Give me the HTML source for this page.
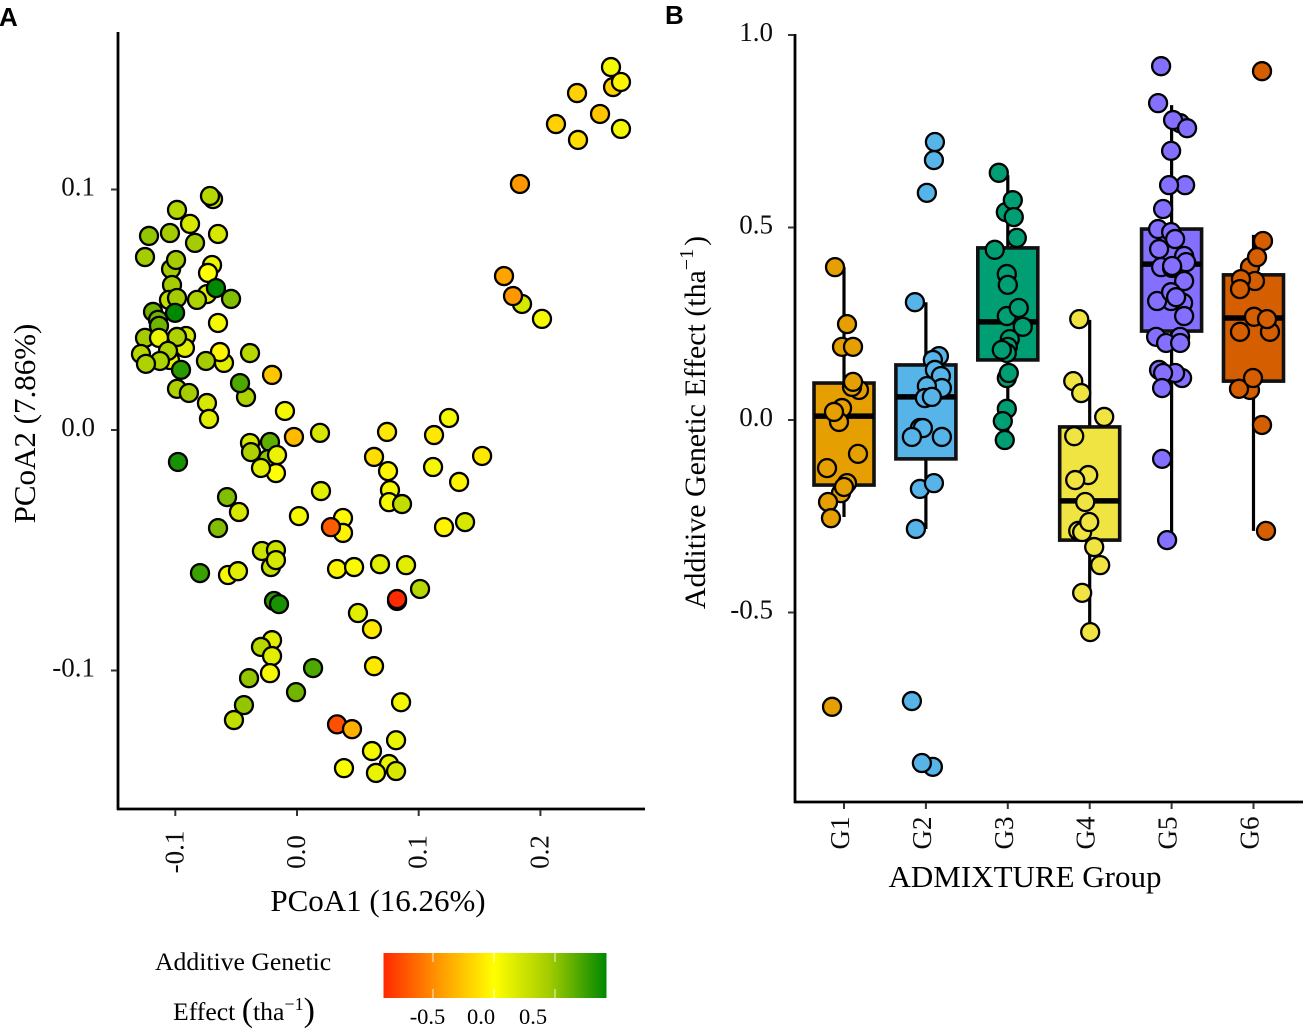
<!DOCTYPE html>
<html lang="en">
<head>
<meta charset="utf-8">
<title>PCoA and additive genetic effect by ADMIXTURE group</title>
<style>
html,body{margin:0;padding:0;background:#fff;}
svg{display:block;font-family:"Liberation Serif","DejaVu Serif",serif;}
.panel-tag{font-family:"Liberation Sans",Arial,sans-serif;font-weight:bold;font-size:26px;fill:#000;}
.tick-label{font-size:27px;fill:#0d0d0d;}
.axis-title{font-size:31px;fill:#000;}
.legend-text{font-size:25.7px;fill:#000;}
.legend-tick-text{font-size:22.5px;fill:#000;}
</style>
</head>
<body>
<svg id="figure" xmlns="http://www.w3.org/2000/svg" width="1308" height="1032" viewBox="0 0 1308 1032">
  <defs>
    <linearGradient id="effect-gradient" x1="0" x2="1" y1="0" y2="0"></linearGradient>
  </defs>
  <rect x="0" y="0" width="1308" height="1032" fill="#fff"/>
  <text class="panel-tag" x="-1" y="26">A</text>
  <text class="panel-tag" x="665" y="24">B</text>

  <g id="panel-a">
    <g id="a-points"></g>
    <line x1="118" y1="32" x2="118" y2="810" stroke="#000" stroke-width="2.8"/>
    <line x1="117" y1="809" x2="645" y2="809" stroke="#000" stroke-width="2.8"/>
    <g id="a-ticks"></g>
    <text class="axis-title" x="378" y="911" text-anchor="middle">PCoA1 (16.26%)</text>
    <text class="axis-title" transform="translate(35,423.5) rotate(-90)" text-anchor="middle">PCoA2 (7.86%)</text>
  </g>

  <g id="panel-b">
    <g id="b-marks"></g>
    <line x1="795" y1="34" x2="795" y2="803" stroke="#000" stroke-width="2.8"/>
    <line x1="794" y1="802" x2="1303" y2="802" stroke="#000" stroke-width="2.8"/>
    <g id="b-ticks"></g>
    <text class="axis-title" x="1025" y="887" text-anchor="middle">ADMIXTURE Group</text>
    <text class="axis-title" transform="translate(705,422.5) rotate(-90)" text-anchor="middle" style="font-size:29.9px">Additive Genetic Effect (tha<tspan font-size="20" dy="-12">−1</tspan><tspan dy="12" dx="3" font-size="30">)</tspan></text>
  </g>

  <g id="legend">
    <text class="legend-text" x="155" y="970">Additive Genetic</text>
    <text class="legend-text" x="173" y="1020">Effect <tspan font-size="34" dy="1">(</tspan><tspan dy="-1">tha</tspan><tspan font-size="18" dy="-10">−1</tspan><tspan font-size="34" dy="11">)</tspan></text>
    <rect x="383.5" y="953" width="223" height="45" fill="url(#effect-gradient)"/>
    <g id="legend-ticks"></g>
    <text class="legend-tick-text" x="427.5" y="1024" text-anchor="middle">-0.5</text>
    <text class="legend-tick-text" x="481" y="1024" text-anchor="middle">0.0</text>
    <text class="legend-tick-text" x="533" y="1024" text-anchor="middle">0.5</text>
  </g>
</svg>

<script>
/* Panel A data */
const pcoa1Values = [
  .2597,.2580,.2662,.2301,.2490,.2128,.2309,.2662,.1832,.1701,.1849,.1775,.2013,
  -.0690,-.0715,-.0986,-.0879,-.0838,-.1044,-.1216,-.0649,-.1249,-.0698,-.0731,
  -.1035,-.0994,-.1027,-.1052,-.0986,-.0740,-.0822,-.0666,-.0542,
  -.1183,-.1142,-.1134,-.1002,-.0912,-.0921,-.1249,-.1134,-.0986,-.0649,-.0600,-.0633,-.0748,-.0386,
  -.1282,-.1044,-.1060,-.0953,-.1126,-.1241,-.0419,-.0468,-.0986,-.0888,-.0740,-.0723,
  -.0205,-.0099,-.0025,.0189,-.0386,-.0378,-.0222,-.0238,-.0173,-.0164,-.0296,-.0978,
  -.0575,-.0477,-.0649,.0016,.0197,-.0797,-.0567,-.0485,-.0288,-.0173,-.0214,-.0173,-.0189,-.0148,
  -.0205,-.0296,-.0205,-.0394,-.0222,.0132,-.0008,-.0436,-.0518,
  .0740,.0633,.1126,.1249,.1521,.1118,.0748,.0764,.1332,.0756,.0863,.1208,.1381,
  .0378,.0378,.0279,.0329,.0469,.0682,.0896,.1011,.0822,.0822,.0501,.0616,.0633,.0855,
  .0329,.0452,.0616,.0814,.0386,.0756,.0814,.0649
];
const pcoa2Values = [
  .1426,.1509,.1447,.1401,.1314,.1272,.1206,.1252,.1023,.0640,.0524,.0557,.0462,
  .0960,.0973,.0915,.0857,.0778,.0819,.0807,.0815,.0719,.0686,.0653,
  .0669,.0707,.0603,.0541,.0549,.0565,.0541,.0590,.0545,
  .0491,.0458,.0433,.0487,.0391,.0341,.0383,.0383,.0387,.0445,.0279,.0324,.0287,.0320,
  .0316,.0291,.0329,.0250,.0287,.0275,.0137,.0195,.0171,.0154,.0112,.0046,
  .0229,.0079,-.0029,-.0012,-.0054,-.0092,-.0050,-.0121,-.0179,-.0104,-.0158,-.0133,
  -.0279,-.0341,-.0408,-.0358,-.0254,-.0595,-.0603,-.0587,-.0503,-.0499,-.0570,-.0541,-.0711,-.0724,
  -.0874,-.0902,-.0940,-.1032,-.1011,-.0990,-.1090,-.1144,-.1206,
  -.0008,-.0112,-.0021,.0050,-.0108,-.0154,-.0171,-.0250,-.0216,-.0300,-.0308,-.0404,-.0383,
  -.0366,-.0428,-.0404,-.0578,-.0570,-.0558,-.0562,-.0661,-.0711,-.0703,-.0761,-.0828,-.0982,-.1132,
  -.1224,-.1244,-.1335,-.1290,-.1406,-.1389,-.1418,-.1426
];
const effectValues = [
  -.2,.05,-.05,-.2,-.25,-.2,-.15,.05,-.45,-.4,.2,-.45,.05,
  .3,.35,.35,.2,.45,.45,.5,.2,.45,.1,0,
  .45,.45,.45,.3,.45,.15,.4,.95,.55,
  .6,.6,.6,1.0,.2,.15,.45,.1,.4,.05,.15,-.05,.45,.35,
  .35,.1,.4,.8,.4,.4,.4,.7,.4,.45,.2,.15,
  -.25,.05,-.3,.2,.2,.4,.65,.5,0,.1,.15,.85,
  .55,.2,.55,.05,.15,.75,.05,.15,.25,.25,.3,.2,.8,.85,
  .15,.35,.15,.5,.05,.7,.6,.5,.3,
  -.1,-.15,-.1,.05,-.1,.05,-.05,.05,-.05,.05,.3,-.05,.2,
  -.02,-.05,-.7,-.05,.03,.15,.15,.35,-.1,-.9,.15,-.1,-.1,.05,
  -.75,-.35,.05,.1,.03,.1,.2,.1
];
const pcoa1Ticks = [-0.1, 0, 0.1, 0.2];
const pcoa1TickLabels = ["-0.1", "0.0", "0.1", "0.2"];
const pcoa2Ticks = [0.1, 0, -0.1];
const pcoa2TickLabels = ["0.1", "0.0", "-0.1"];
const legendTicks = [-0.5, 0, 0.5];

/* Panel B data */
const groups = ["G1", "G2", "G3", "G4", "G5", "G6"];
const groupFills = ["#E69F00", "#56B4E9", "#009E73", "#F0E442", "#8470FF", "#D55E00"];
const whiskerHigh = [.397, .306, .636, .260, .818, .481];
const boxQ3 = [.096, .143, .447, -.018, .496, .377];
const boxMedian = [.010, .060, .255, -.210, .405, .265];
const boxQ1 = [-.169, -.101, .156, -.312, .231, .101];
const whiskerLow = [-.252, -.283, -.052, -.551, -.312, -.288];
const effectTicks = [1, 0.5, 0, -0.5];
const effectTickLabels = ["1.0", "0.5", "0.0", "-0.5"];
const g1Effects = [.397,.249,.190,.190,.078,.086,.099,.031,-.005,.021,-.088,-.125,-.164,-.190,-.174,-.213,-.255,-.745];
const g1Jitter = [-.110,.037,-.024,.110,.183,.098,.110,-.024,-.061,-.122,.171,-.207,.037,-.037,0,-.195,-.159,-.146];
const g2Effects = [.722,.675,.590,.306,.166,.156,.130,.114,.083,.088,.057,.060,-.021,-.021,-.044,-.044,-.179,-.164,-.283,-.730,-.901,-.891];
const g2Jitter = [.110,.098,.012,-.134,.159,.085,.110,.183,.195,.012,-.012,.073,-.073,-.037,-.171,.195,-.073,.098,-.122,-.171,.085,-.049];
const g3Effects = [.642,.540,.571,.527,.473,.442,.379,.351,.270,.291,.242,.210,.190,.174,.182,.109,.122,.029,-.003,-.052];
const g3Jitter = [-.110,-.024,.061,.073,.110,-.159,-.012,0,-.012,.134,.183,.024,0,-.012,-.073,-.012,.012,-.012,-.061,-.037];
const g4Effects = [.262,.101,.070,.008,-.042,-.143,-.156,-.213,-.288,-.291,-.265,-.330,-.377,-.449,-.551];
const g4Jitter = [-.128,-.201,-.104,.177,-.189,-.018,-.177,-.055,-.140,-.092,-.006,.055,.128,-.092,.006];
const g5Effects = [.919,.823,.771,.779,.758,.699,.610,.610,.548,.496,.488,.426,.444,.470,.410,.397,.395,.400,.361,.304,.309,.309,.332,.319,.270,.216,.216,.200,.200,.130,.109,.122,.122,.083,-.101,-.312];
const g5Jitter = [-.128,-.165,.104,.018,.189,-.006,.165,-.031,-.104,-.165,-.006,.153,-.153,.043,.177,-.128,.006,.006,.153,.140,-.006,-.177,-.006,.055,.153,-.189,.104,-.067,.104,-.153,.128,.043,-.104,-.116,-.116,-.055];
const g6Effects = [.906,.465,.397,.423,.361,.366,.340,.229,.268,.262,.229,.078,.081,.109,-.013,-.288];
const g6Jitter = [.104,.116,-.043,.043,.018,-.153,-.165,.201,.006,.165,-.165,-.043,-.177,-.006,.104,.153];
const groupEffects = [g1Effects, g2Effects, g3Effects, g4Effects, g5Effects, g6Effects];
const groupJitter = [g1Jitter, g2Jitter, g3Jitter, g4Jitter, g5Jitter, g6Jitter];

/* Scales */
const NS = "http://www.w3.org/2000/svg";
const xA = v => 297 + v * 1217;
const yA = v => 430 - v * 2405;
const xB = pos => 844 + pos * 81.9;
const yB = v => 420 - v * 385;
const xLegend = v => 494 + v * 122;

const colorStops = [
  [-0.9, [255, 42, 0]],
  [-0.45, [255, 152, 0]],
  [0, [255, 255, 0]],
  [0.45, [164, 204, 0]],
  [0.92, [0, 136, 0]]
];
function effectColor(v) {
  const c = Math.max(colorStops[0][0], Math.min(colorStops[colorStops.length - 1][0], v));
  for (let i = 1; i < colorStops.length; i++) {
    if (c <= colorStops[i][0]) {
      const a = colorStops[i - 1], b = colorStops[i];
      const t = (c - a[0]) / (b[0] - a[0]);
      const mix = a[1].map((q, k) => Math.round(q + (b[1][k] - q) * t));
      return "rgb(" + mix.join(",") + ")";
    }
  }
  return "rgb(0,136,0)";
}
function make(parent, tag, attrs, text) {
  const el = document.createElementNS(NS, tag);
  for (const k in attrs) el.setAttribute(k, attrs[k]);
  if (text !== undefined) el.textContent = text;
  parent.appendChild(el);
  return el;
}

/* Legend gradient */
const gradient = document.getElementById("effect-gradient");
colorStops.forEach(s => {
  const stop = make(gradient, "stop", {
    offset: ((xLegend(s[0]) - 383.5) / 223 * 100).toFixed(2) + "%",
    "stop-color": effectColor(s[0])
  });
  
  
});
const legendTickLayer = document.getElementById("legend-ticks");
legendTicks.forEach(v => {
  [[953, 962], [989, 998]].forEach(span => {
    const t = make(legendTickLayer, "line", {
      x1: xLegend(v), x2: xLegend(v), y1: span[0], y2: span[1],
      stroke: "#fff", "stroke-width": 1, "stroke-opacity": 0.85
    });
    
    
  });
});

/* Panel A marks */
const aPoints = document.getElementById("a-points");
pcoa1Values.forEach((v, i) => {
  const c = make(aPoints, "circle", {
    cx: xA(v), cy: yA(pcoa2Values[i]), r: 9,
    fill: effectColor(effectValues[i]), stroke: "#000", "stroke-width": 2.3
  });
  
  
});
const aTicks = document.getElementById("a-ticks");
pcoa1Ticks.forEach((v, i) => {
  const t = make(aTicks, "line", { x1: xA(v), x2: xA(v), y1: 810, y2: 816, stroke: "#333", "stroke-width": 2 });
  
  
  const l = make(aTicks, "text", {
    class: "tick-label", transform: "translate(" + (xA(v) + 8) + ",852) rotate(-90)", "text-anchor": "middle"
  }, pcoa1TickLabels[i]);
  
  
});
pcoa2Ticks.forEach((v, i) => {
  const t = make(aTicks, "line", { x1: 111, x2: 117, y1: yA(v), y2: yA(v), stroke: "#333", "stroke-width": 2 });
  
  
  const l = make(aTicks, "text", {
    class: "tick-label", x: 95, y: yA(v) + 6, "text-anchor": "end"
  }, pcoa2TickLabels[i]);
  
  
});

/* Panel B marks */
const bMarks = document.getElementById("b-marks");
groups.forEach((g, i) => {
  const cx = xB(i);
  const whisker = make(bMarks, "line", { x1: cx, x2: cx, y1: yB(whiskerHigh[i]), y2: yB(whiskerLow[i]), stroke: "#000", "stroke-width": 3.2 });
  
  
  const box = make(bMarks, "rect", {
    x: cx - 30, y: yB(boxQ3[i]), width: 60, height: yB(boxQ1[i]) - yB(boxQ3[i]),
    fill: groupFills[i], stroke: "#111", "stroke-width": 3.6
  });
  
  
  const median = make(bMarks, "line", { x1: cx - 30, x2: cx + 30, y1: yB(boxMedian[i]), y2: yB(boxMedian[i]), stroke: "#000", "stroke-width": 5.5 });
  
  
  groupEffects[i].forEach((v, k) => {
    const c = make(bMarks, "circle", {
      cx: xB(i + groupJitter[i][k]), cy: yB(v), r: 9,
      fill: groupFills[i], stroke: "#000", "stroke-width": 2.3
    });
    
    
  });
});
const bTicks = document.getElementById("b-ticks");
groups.forEach((g, i) => {
  const cx = xB(i);
  const t = make(bTicks, "line", { x1: cx, x2: cx, y1: 803, y2: 809, stroke: "#333", "stroke-width": 2 });
  
  
  const l = make(bTicks, "text", {
    class: "tick-label", transform: "translate(" + (cx + 5) + ",833) rotate(-90)", "text-anchor": "middle"
  }, g);
  
  
});
effectTicks.forEach((v, i) => {
  const t = make(bTicks, "line", { x1: 788, x2: 794, y1: yB(v), y2: yB(v), stroke: "#333", "stroke-width": 2 });
  
  
  const l = make(bTicks, "text", {
    class: "tick-label", x: 773, y: yB(v) + 6, "text-anchor": "end"
  }, effectTickLabels[i]);
  
  
});
</script>
</body>
</html>
